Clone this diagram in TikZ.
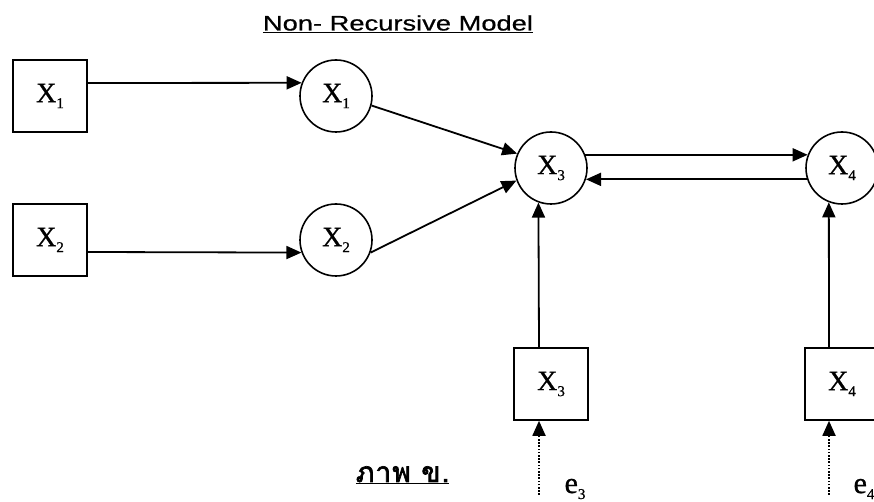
\documentclass[tikz,border=0pt]{standalone}
\usepackage{fontspec}
\setmainfont{Liberation Serif}
\newfontfamily\labfont[FakeBold=0.8]{Liberation Serif}
\newfontfamily\titlefont[FakeStretch=1.3,FakeBold=0.6]{Liberation Sans}
\newfontfamily\thaifont[Script=Thai,FakeBold=2.5,LetterSpace=4]{Loma}
\usetikzlibrary{arrows.meta}
\newcommand{\var}[2]{#1\raisebox{-6pt}{\fontsize{15}{15}\selectfont#2}}
\begin{document}
\begin{tikzpicture}[x=1pt,y=1pt,line width=1.8pt,
    >={Triangle[length=15pt,width=13pt]},
    obs/.style={draw,line width=1.6pt,minimum width=74pt,minimum height=72pt,inner sep=0pt,font=\labfont\fontsize{28}{28}\selectfont},
    lat/.style={draw,circle,line width=1.6pt,minimum size=72pt,inner sep=0pt,font=\labfont\fontsize{28}{28}\selectfont},
    err/.style={line width=1.8pt,dash pattern=on 1.6pt off 1.6pt}]
    \useasboundingbox (0,0) rectangle (874,502);
    \clip (0,0) rectangle (874,502);
    % title and caption
    \node (title) at (398,478) {\titlefont\fontsize{21}{21}\selectfont\underline{Non- Recursive Model}};
    \node[anchor=base west,inner sep=0pt] (cap) at (355,20) {\thaifont\fontsize{28}{28}\selectfont\underline{ภาพ ข.}};
    % observed and latent variables
    \node[obs] (bx1) at (50,406) {\var{X}{1}};
    \node[obs] (bx2) at (50,262) {\var{X}{2}};
    \node[lat] (cx1) at (336,406) {\var{X}{1}};
    \node[lat] (cx2) at (336,262) {\var{X}{2}};
    \node[lat] (cx3) at (551,334) {\var{X}{3}};
    \node[lat] (cx4) at (842,334) {\var{X}{4}};
    \node[obs] (bx3) at (551,118) {\var{X}{3}};
    \node[obs] (bx4) at (842,118) {\var{X}{4}};
    % errors
    \coordinate (e3) at (539,7);
    \coordinate (e4) at (829,7);
    \node[font=\labfont\fontsize{30}{30}\selectfont] (le3) at (575,13) {\var{e}{3}};
    \node[font=\labfont\fontsize{30}{30}\selectfont] (le4) at (864,13) {\var{e}{4}};
    % paths
    \draw[->] ([yshift=13pt]bx1.east) -- (cx1.159);
    \draw[->] ([yshift=-12pt]bx2.east) -- (cx2.200);
    \draw[->] (cx1.-15) -- (cx3.157);
    \draw[->] (cx2.-20) -- (cx3.200);
    \draw[->] (cx3.21) -- (cx4.159);
    \draw[->] (cx4.198) -- (cx3.-18);
    \draw[->] ([xshift=-12pt]bx3.north) -- (cx3.250);
    \draw[->] ([xshift=-13pt]bx4.north) -- (cx4.249);
    \draw[->,err] (e3) -- ([xshift=-12pt]bx3.south);
    \draw[->,err] (e4) -- ([xshift=-13pt]bx4.south);
\end{tikzpicture}
\end{document}
